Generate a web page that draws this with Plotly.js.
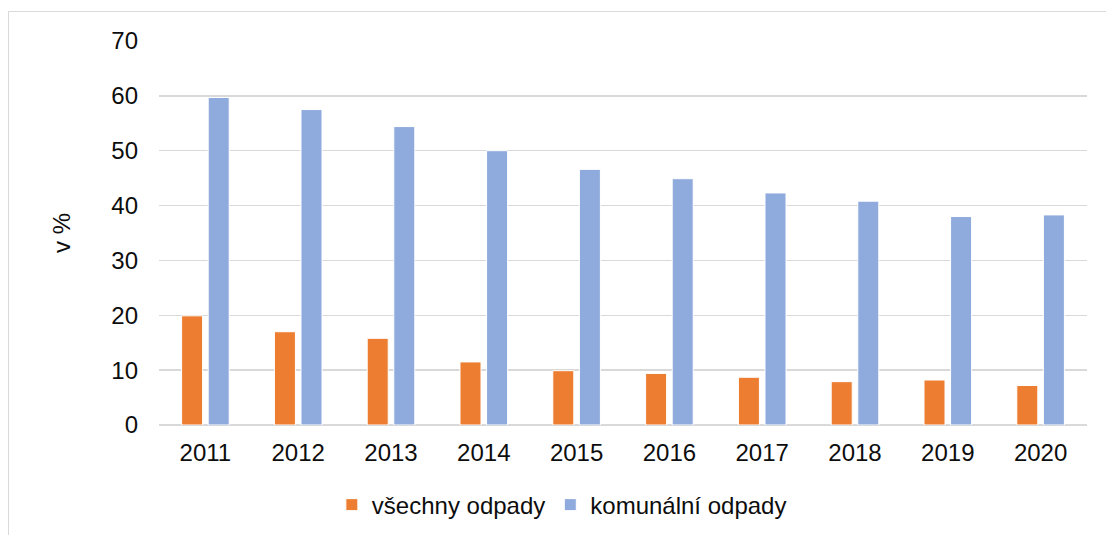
<!DOCTYPE html>
<html>
<head>
<meta charset="utf-8">
<script src="https://cdn.plot.ly/plotly-3.0.1.min.js"></script>
<style>
  html, body { margin: 0; padding: 0; background: #fff; }
  #wrap { position: relative; width: 1106px; height: 535px; overflow: hidden; }
  #chart { position: absolute; left: 0; top: 0; width: 1106px; height: 535px; }
  #frame { position: absolute; left: 8px; top: 11px; width: 1200px; height: 700px;
           border: 1.5px solid #d9d9d9; pointer-events: none; box-sizing: border-box; }
</style>
</head>
<body>
<div id="wrap">
  <div id="chart"></div>
  <div id="frame"></div>
</div>
<script>
const years = ['2011','2012','2013','2014','2015','2016','2017','2018','2019','2020'];
const vsechnyOdpady = [19.9, 17.0, 15.8, 11.5, 9.9, 9.4, 8.7, 7.9, 8.2, 7.2];
const komunalniOdpady = [59.7, 57.5, 54.4, 50.0, 46.6, 44.9, 42.3, 40.8, 38.0, 38.3];
const yTicks = [0, 10, 20, 30, 40, 50, 60, 70];

const FONT = 'Liberation Sans, Arial, sans-serif';
const FS = 24;
const traces = [
  { type: 'bar', name: 'všechny odpady', x: years, y: vsechnyOdpady,
    marker: { color: '#ED7D31', line: { color: '#ffffff', width: 1 } }, hoverinfo: 'x+y' },
  { type: 'bar', name: 'komunální odpady', x: years, y: komunalniOdpady,
    marker: { color: '#8FAADC', line: { color: '#ffffff', width: 1 } }, hoverinfo: 'x+y' }
];

const layout = {
  width: 1106, height: 535,
  margin: { l: 159, r: 19, t: 41, b: 110 },
  paper_bgcolor: 'rgba(0,0,0,0)', plot_bgcolor: 'rgba(0,0,0,0)',
  font: { family: FONT, size: FS, color: '#0d0d0d' },
  barmode: 'group', bargap: 0.427, bargroupgap: 0.21,
  showlegend: true,
  legend: { orientation: 'h', xref: 'container', yref: 'container',
            x: 0.508, xanchor: 'center', y: 0.056, yanchor: 'middle',
            font: { family: FONT, size: FS, color: '#0d0d0d' }, itemwidth: 30,
            traceorder: 'normal' },
  xaxis: { type: 'category', showgrid: false, zeroline: false, showline: false,
           ticks: '', tickfont: { family: FONT, size: FS, color: '#0d0d0d' },
           ticklabelstandoff: 11 },
  yaxis: { range: [0, 70], tickvals: yTicks, ticktext: yTicks.map(String),
           showgrid: true, gridcolor: '#d9d9d9', gridwidth: 1.3,
           zeroline: true, zerolinecolor: '#d9d9d9', zerolinewidth: 1.3,
           showline: false, ticks: '', ticklabelstandoff: 20,
           tickfont: { family: FONT, size: FS, color: '#0d0d0d' },
           title: { text: 'v %', standoff: 33, font: { family: FONT, size: FS, color: '#0d0d0d' } } }
};

Plotly.newPlot('chart', traces, layout, { displayModeBar: false, staticPlot: true });
</script>
</body>
</html>
